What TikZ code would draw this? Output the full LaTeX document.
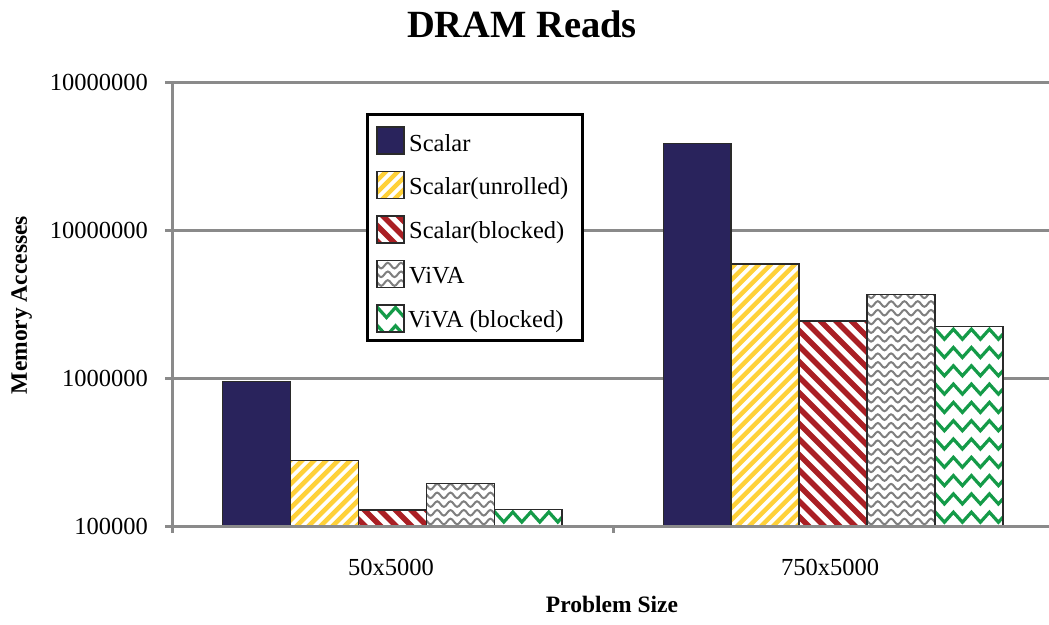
\documentclass[tikz,border=0pt]{standalone}
\usepackage{fontspec}
\setmainfont{Liberation Serif}
\usetikzlibrary{decorations.pathmorphing}

\definecolor{navybar}{HTML}{29235C}
\definecolor{stripeyellow}{HTML}{FFD139}
\definecolor{stripered}{HTML}{AA1F24}
\definecolor{zigreen}{HTML}{149B48}
\definecolor{wavegray}{HTML}{7F7F7F}
\definecolor{gridgray}{HTML}{8A8A8A}
\definecolor{edgegray}{HTML}{2A2A2A}

% bar width
\newcommand\bw{67.9}
% fill macros: #1 left, #2 top, #3 right, #4 bottom
\newcommand\fillsolid[4]{\fill[navybar] ({#1},{#2}) rectangle ({#3},{#4});}
\newcommand\fillyellow[4]{\foreach \k in {-40,...,8}{%
  \draw[stripeyellow,line width=4.5] ({#1+\k*12},{#4+6}) -- ++(520,-520);}}
\newcommand\fillred[4]{\foreach \k in {-34,...,7}{%
  \draw[stripered,line width=5.5] ({#1+\k*15.5},{#2-6}) -- ++(520,520);}}
\newcommand\fillwave[4]{\foreach \j in {0,...,47}{%
  \draw[wavegray,line width=2,decorate,
        decoration={snake,segment length=13.3,amplitude=2.8}]
    ({#1-6.65},{#4-4.5-\j*8.7}) -- ({#3+20},{#4-4.5-\j*8.7});}}
\newcommand\fillzig[4]{\foreach \j in {0,...,24}{%
  \draw[zigreen,line width=3.2,decorate,
        decoration={zigzag,segment length=18,amplitude=5}]
    ({#1-4},{#2+7.5+\j*18.3}) -- ({#3+24},{#2+7.5+\j*18.3});}}

% one bar of the chart: #1 left, #2 top, #3 fill macro
\newcommand\chartbar[3]{%
  \begin{scope}
    \clip ({#1},{#2}) rectangle ({#1+\bw},526);
    \fill[white] ({#1},{#2}) rectangle ({#1+\bw},526);
    #3{#1}{#2}{#1+\bw}{526}
  \end{scope}
  \draw[baredge] ({#1},{#2}) rectangle ({#1+\bw},526);}

% legend swatch centred at height #1, fill macro #2
\newcommand\swatch[2]{%
  \begin{scope}
    \clip (377,{#1-13.5}) rectangle (404,{#1+13.5});
    \fill[white] (377,{#1-13.5}) rectangle (404,{#1+13.5});
    #2{377}{#1-13.5}{404}{#1+13.5}
  \end{scope}
  \draw[baredge] (377,{#1-13.5}) rectangle (404,{#1+13.5});}

\tikzset{
  baredge/.style={edgegray,line width=1.5},
  gridline/.style={gridgray,line width=3},
  ticklabel/.style={font=\fontsize{24.5}{28}\selectfont,inner sep=0pt},
  legendlabel/.style={font=\fontsize{24.5}{28}\selectfont,inner sep=0pt,anchor=base west},
  axistitle/.style={font=\bfseries\fontsize{23.5}{28}\selectfont,inner sep=0pt},
}

\begin{document}
\begin{tikzpicture}[x=1pt,y=-1pt]
  \useasboundingbox (0,0) rectangle (1049,624);
  \fill[white] (0,0) rectangle (1049,624);

  % title
  \node[font=\bfseries\fontsize{38.5}{42}\selectfont,inner sep=0pt,anchor=base]
    (title) at (522,37.5) {DRAM Reads};

  % horizontal grid lines
  \foreach \gy in {82,230,378}{
    \draw[gridline] (165,\gy) -- (1049,\gy);
  }

  % y-axis tick labels
  \node[ticklabel,anchor=base east] (ylab8) at (148,90.7) {10000000};
  \node[ticklabel,anchor=base east] (ylab7) at (148,238.5) {10000000};
  \node[ticklabel,anchor=base east] (ylab6) at (148,386.5) {1000000};
  \node[ticklabel,anchor=base east] (ylab5) at (148,534.5) {100000};

  % bars, size 50x5000
  \chartbar{222.7}{381.5}{\fillsolid}
  \chartbar{290.6}{460.3}{\fillyellow}
  \chartbar{358.5}{510}{\fillred}
  \chartbar{426.4}{483.5}{\fillwave}
  \chartbar{494.3}{509.5}{\fillzig}

  % bars, size 750x5000
  \chartbar{663.3}{143.5}{\fillsolid}
  \chartbar{731.2}{264}{\fillyellow}
  \chartbar{799.1}{321}{\fillred}
  \chartbar{867.0}{294.5}{\fillwave}
  \chartbar{934.9}{326.7}{\fillzig}

  % axes
  \draw[gridline] (172,82) -- (172,533);
  \draw[gridline] (165,526) -- (1049,526);
  \draw[gridline] (613,526) -- (613,533);

  % category labels
  \node[ticklabel,anchor=base] (cat1) at (391,575) {50x5000};
  \node[ticklabel,anchor=base] (cat2) at (830,575) {750x5000};

  % axis titles
  \node[axistitle,anchor=base] (xtitle) at (612,612) {Problem Size};
  \node[axistitle,anchor=base,rotate=90] (ytitle) at (27,305) {Memory Accesses};

  % legend
  \draw[black,line width=3,fill=white] (367,114) rectangle (582,340);
  \swatch{140.5}{\fillsolid}
  \swatch{185}{\fillyellow}
  \swatch{229.5}{\fillred}
  \swatch{274}{\fillwave}
  \swatch{318.5}{\fillzig}
  \node[legendlabel] (leg1) at (409,151.5) {Scalar};
  \node[legendlabel] (leg2) at (409,194) {Scalar(unrolled)};
  \node[legendlabel] (leg3) at (409,238.5) {Scalar(blocked)};
  \node[legendlabel] (leg4) at (409,283.5) {ViVA};
  \node[legendlabel] (leg5) at (408,327) {ViVA (blocked)};
\end{tikzpicture}
\end{document}
